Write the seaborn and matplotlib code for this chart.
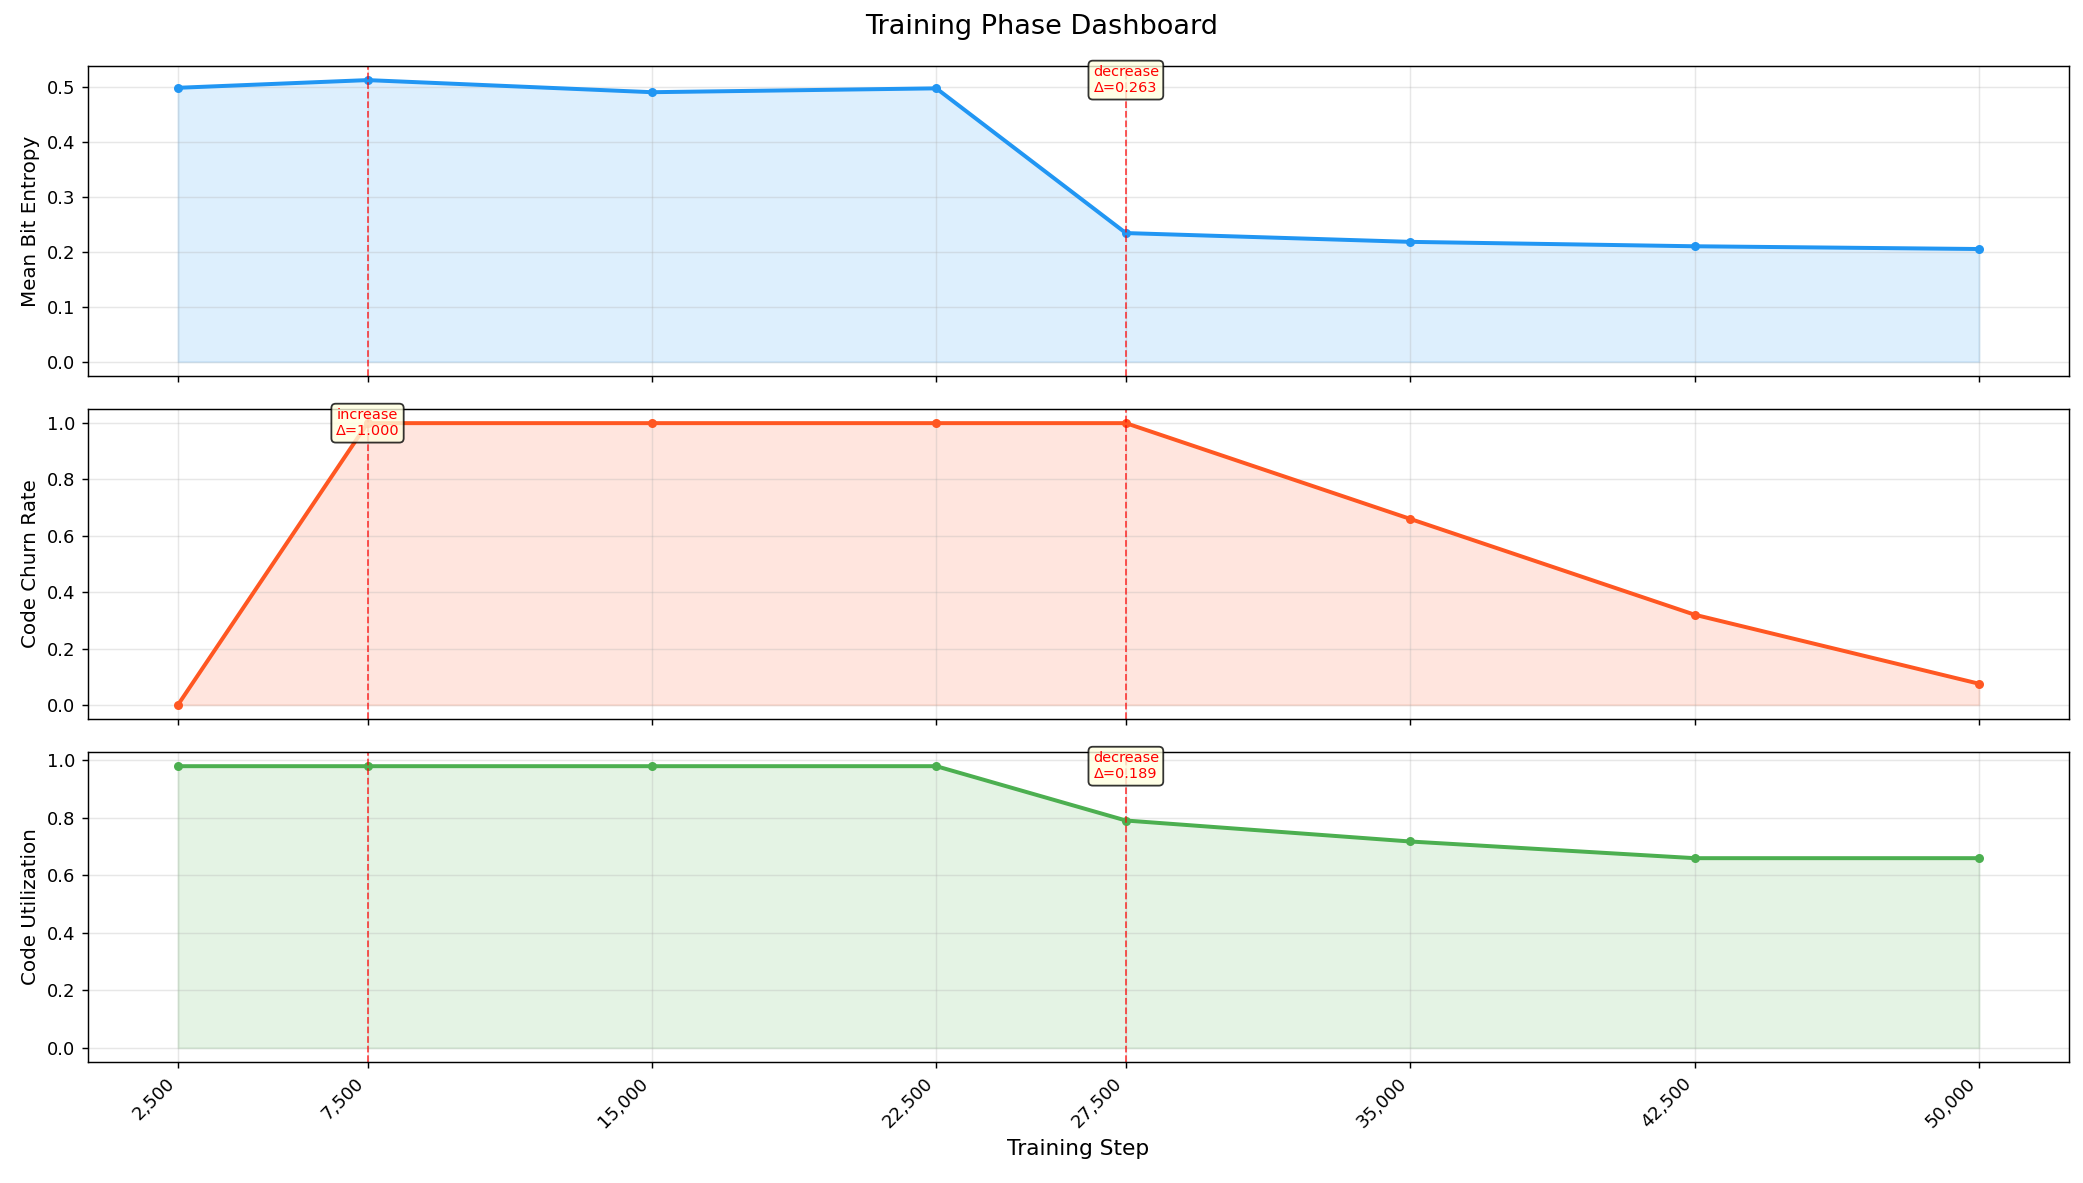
import matplotlib
matplotlib.use("Agg")
import matplotlib.pyplot as plt
import seaborn as sns
import pandas as pd
from matplotlib.ticker import FuncFormatter

steps = [2500, 7500, 15000, 22500, 27500, 35000, 42500, 50000]
entropy = [0.498, 0.512, 0.490, 0.497, 0.234, 0.218, 0.210, 0.205]
churn = [0.0, 1.0, 1.0, 1.0, 1.0, 0.660, 0.320, 0.075]
utilization = [0.980, 0.980, 0.980, 0.980, 0.791, 0.718, 0.660, 0.660]

metric_names = ["Mean Bit Entropy", "Code Churn Rate", "Code Utilization"]
colors = ["#2196F3", "#FF5722", "#4CAF50"]

# phase transitions: (panel index, step, label)
trans_panels = [0, 1, 2]
trans_steps = [27500, 7500, 27500]
trans_labels = ["decrease\nΔ=0.263", "increase\nΔ=1.000", "decrease\nΔ=0.189"]
vline_steps = [7500, 27500]

plt.rcParams['font.family'] = ['DejaVu Sans']

dpi = 130
fig, axes = plt.subplots(3, 1, figsize=(2083 / dpi, 1183 / dpi), dpi=dpi, sharex=True)
fig.subplots_adjust(left=0.0422, right=0.9933, top=0.9442, bottom=0.1023, hspace=0.107)

series = [entropy, churn, utilization]
for i, (ax, vals, name, col) in enumerate(zip(axes, series, metric_names, colors)):
    df = pd.DataFrame({"step": steps, "value": vals})
    sns.lineplot(data=df, x="step", y="value", ax=ax, color=col, linewidth=2.2,
                 marker="o", markersize=5, markeredgewidth=0)
    ax.fill_between(steps, 0, vals, color=col, alpha=0.15)
    for s in vline_steps:
        ax.axvline(s, color="red", linestyle="--", linewidth=1, alpha=0.7)
    ax.set_ylabel(name, fontsize=11)
    ax.set_xlabel("")
    ax.grid(True, alpha=0.3)
    for p, s, lab in zip(trans_panels, trans_steps, trans_labels):
        if p == i:
            ax.annotate(lab, xy=(s, max(vals)), ha="center", va="center", fontsize=8,
                        color="red",
                        bbox=dict(boxstyle="round,pad=0.3", facecolor="lightyellow",
                                  edgecolor="black", alpha=0.8))

axes[-1].set_xticks(steps)
axes[-1].xaxis.set_major_formatter(FuncFormatter(lambda v, p: f"{int(v):,}"))
plt.setp(axes[-1].get_xticklabels(), rotation=45, ha="right")
axes[-1].set_xlabel("Training Step", fontsize=12)
fig.suptitle("Training Phase Dashboard", fontsize=15, y=0.9885)

fig.savefig("out.png", dpi=dpi)
